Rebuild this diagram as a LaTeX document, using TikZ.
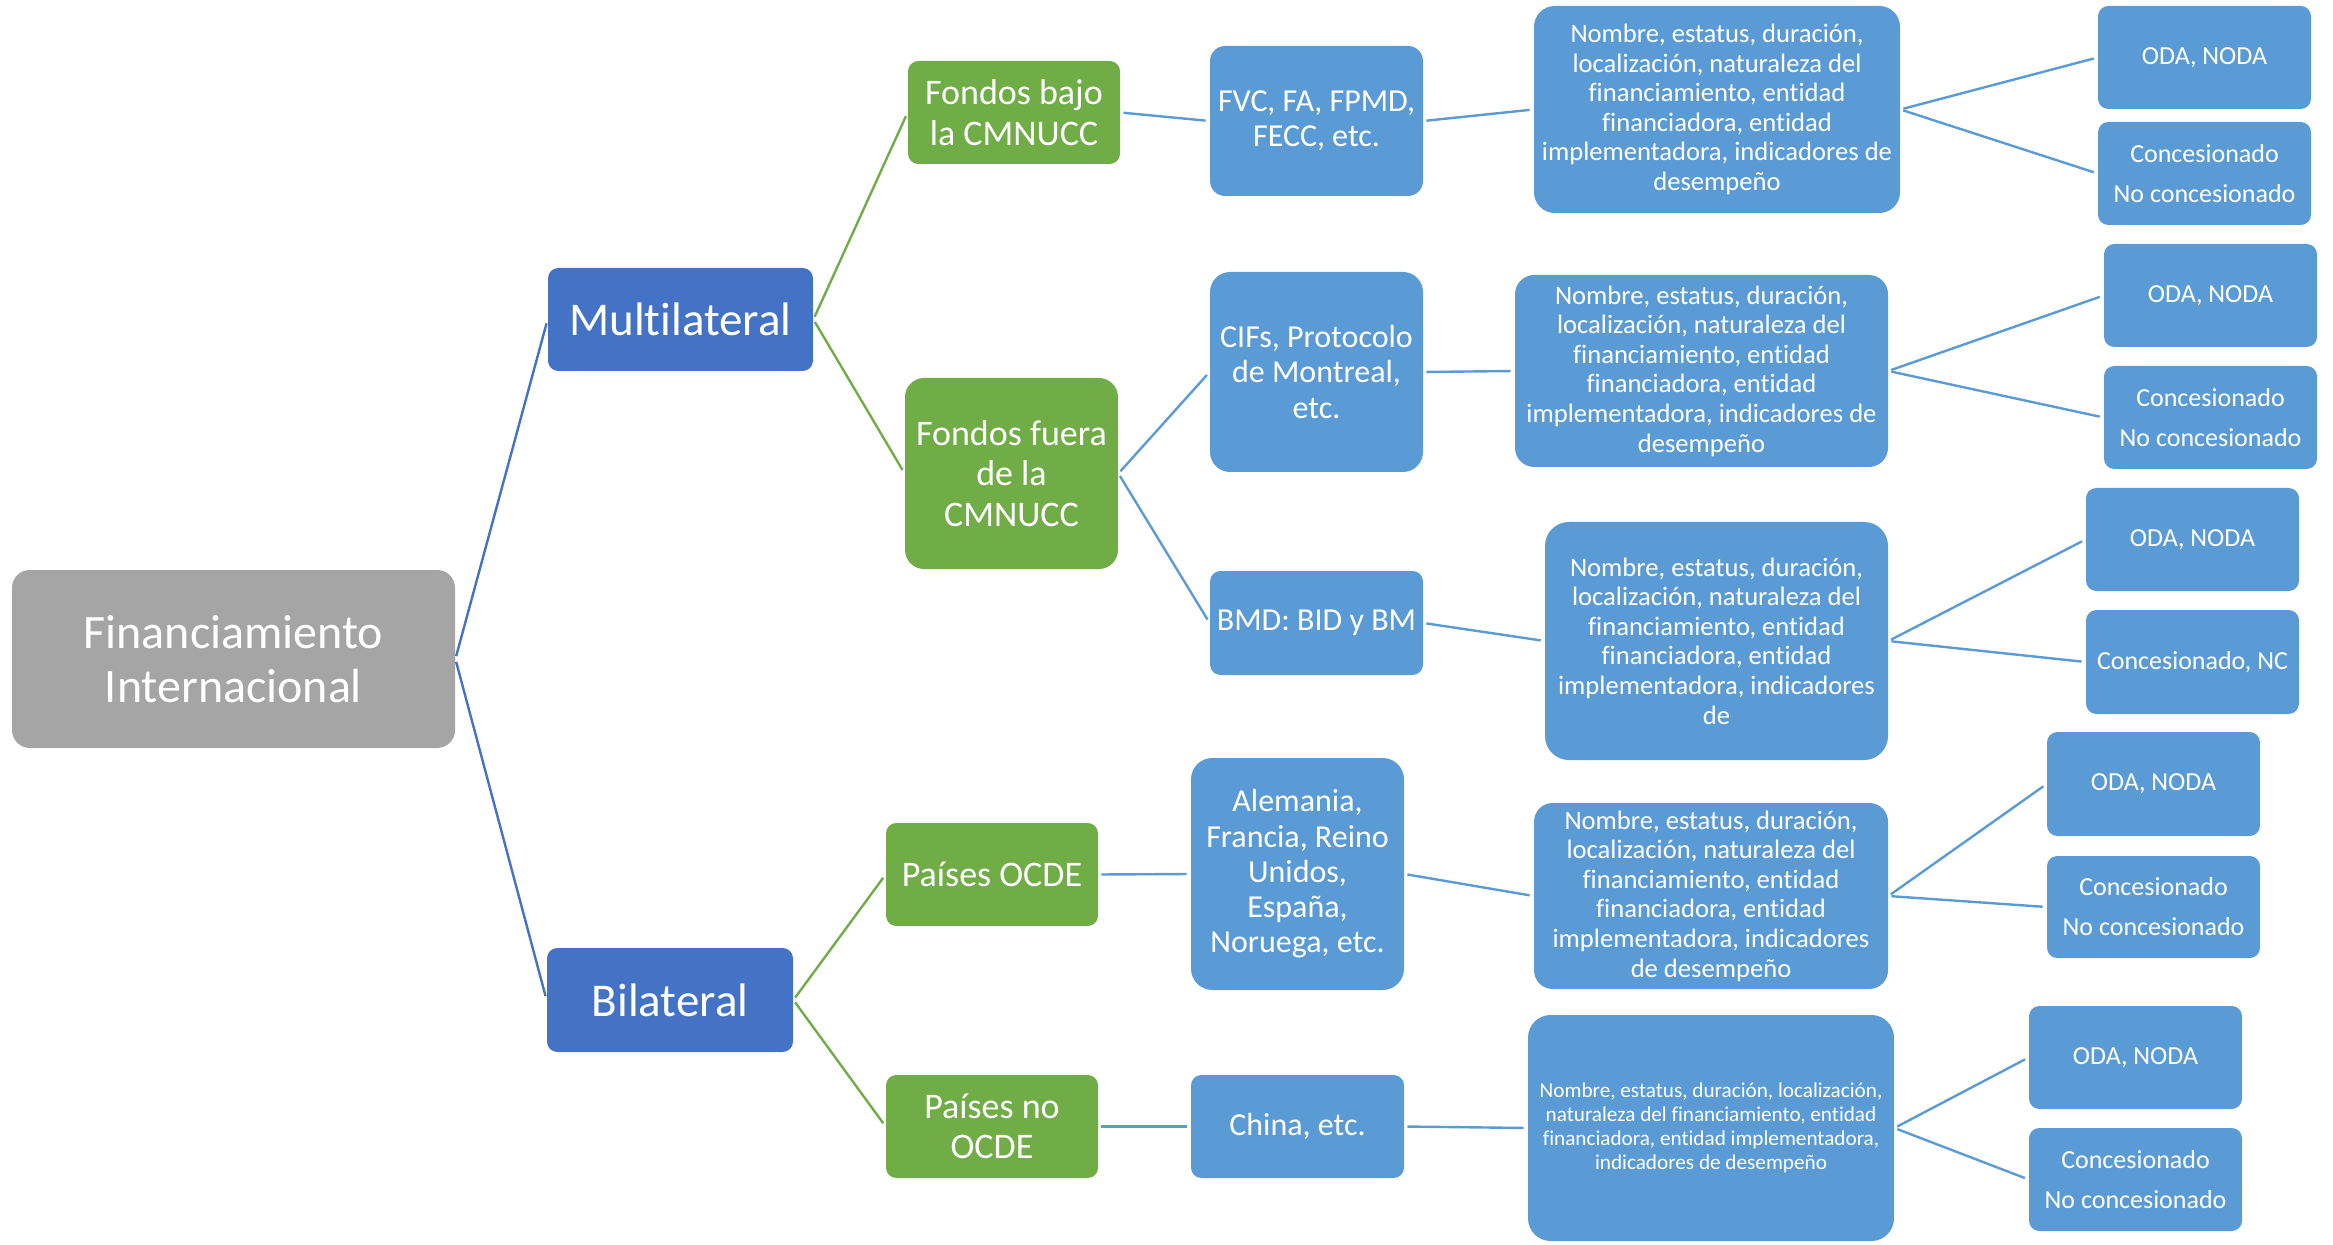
\documentclass[tikz,border=0pt]{standalone}
\usepackage{fontspec}
\setmainfont{Carlito}[RawFeature={-liga;-clig;-dlig;-calt}]
\definecolor{cgray}{HTML}{A5A5A5}
\definecolor{cdblue}{HTML}{4472C4}
\definecolor{cgreen}{HTML}{70AD47}
\definecolor{clblue}{HTML}{5B9BD5}
\newcommand\bx[7]{%
  \pgfmathsetmacro\bxw{(#5-#3)*0.5}%
  \pgfmathsetmacro\bxh{(#6-#4)*0.5}%
  \pgfmathsetmacro\bxr{0.1*min(#5-#3,#6-#4)*0.5}%
  \node[#2, minimum width=\bxw pt, minimum height=\bxh pt, rounded corners=\bxr pt] (#1) at ({(#3+#5)/2},{(#4+#6)/2}) {#7};}
\begin{document}
\begin{tikzpicture}[x=0.5pt,y=-0.5pt,
  basebox/.style={rectangle, text=white, align=center, inner sep=0pt},
  rootbox/.style={basebox, fill=cgray, font=\fontsize{24}{27}\selectfont},
  lonebox/.style={basebox, fill=cdblue, font=\fontsize{23.5}{27}\selectfont},
  grbox/.style={basebox, fill=cgreen, font=\fontsize{18}{20.3}\selectfont},
  midbox/.style={basebox, fill=clblue, font=\fontsize{16}{17.6}\selectfont},
  descbox/.style={basebox, fill=clblue, font=\fontsize{13.3}{14.8}\selectfont},
  descsmall/.style={basebox, fill=clblue, font=\fontsize{10.6}{11.9}\selectfont},
  leafbox/.style={basebox, fill=clblue, font=\fontsize{13}{20}\selectfont},
  conn/.style={line width=1.2pt, shorten <=1.5pt, shorten >=2pt}
]
\useasboundingbox (0,0) rectangle (2333,1245);

\bx{root}{rootbox}{12}{570}{455}{748}{Financiamiento\\Internacional}
\bx{multi}{lonebox}{548}{268}{813}{371}{Multilateral}
\bx{bilat}{lonebox}{547}{948}{793}{1052}{Bilateral}

\bx{fb}{grbox}{908}{61}{1120}{164}{Fondos bajo\\la CMNUCC}
\bx{ff}{grbox}{905}{378}{1118}{569}{Fondos fuera\\de la\\CMNUCC}
\bx{po}{grbox}{886}{823}{1098}{926}{Países OCDE}
\bx{pn}{grbox}{886}{1075}{1098}{1178}{Países no\\OCDE}

\bx{m1}{midbox}{1210}{46}{1423}{196}{FVC, FA, FPMD,\\FECC, etc.}
\bx{m2}{midbox}{1210}{272}{1423}{472}{CIFs, Protocolo\\de Montreal,\\etc.}
\bx{m3}{midbox}{1210}{571}{1423}{675}{BMD: BID y BM}
\bx{m4}{midbox}{1191}{758}{1404}{990}{Alemania,\\Francia, Reino\\Unidos,\\España,\\Noruega, etc.}
\bx{m5}{midbox}{1191}{1075}{1404}{1178}{China, etc.}

\bx{d1}{descbox}{1534}{6}{1900}{213}{Nombre, estatus, duración,\\localización, naturaleza del\\financiamiento, entidad\\financiadora, entidad\\implementadora, indicadores de\\desempeño}
\bx{d2}{descbox}{1515}{275}{1888}{467}{Nombre, estatus, duración,\\localización, naturaleza del\\financiamiento, entidad\\financiadora, entidad\\implementadora, indicadores de\\desempeño}
\bx{d3}{descbox}{1545}{522}{1888}{760}{Nombre, estatus, duración,\\localización, naturaleza del\\financiamiento, entidad\\financiadora, entidad\\implementadora, indicadores\\de}
\bx{d4}{descbox}{1534}{803}{1888}{989}{Nombre, estatus, duración,\\localización, naturaleza del\\financiamiento, entidad\\financiadora, entidad\\implementadora, indicadores\\de desempeño}
\bx{d5}{descsmall}{1528}{1015}{1894}{1241}{Nombre, estatus, duración, localización,\\naturaleza del financiamiento, entidad\\financiadora, entidad implementadora,\\indicadores de desempeño}

\bx{l1a}{leafbox}{2098}{6}{2311}{109}{ODA, NODA}
\bx{l1b}{leafbox}{2098}{122}{2311}{225}{Concesionado\\No concesionado}
\bx{l2a}{leafbox}{2104}{244}{2317}{347}{ODA, NODA}
\bx{l2b}{leafbox}{2104}{366}{2317}{469}{Concesionado\\No concesionado}
\bx{l3a}{leafbox}{2086}{488}{2299}{591}{ODA, NODA}
\bx{l3b}{leafbox}{2086}{610}{2299}{714}{Concesionado, NC}
\bx{l4a}{leafbox}{2047}{732}{2260}{836}{ODA, NODA}
\bx{l4b}{leafbox}{2047}{856}{2260}{958}{Concesionado\\No concesionado}
\bx{l5a}{leafbox}{2029}{1006}{2242}{1109}{ODA, NODA}
\bx{l5b}{leafbox}{2029}{1128}{2242}{1231}{Concesionado\\No concesionado}

\draw[conn, cdblue] (root.east) -- (multi.west);
\draw[conn, cdblue] (root.east) -- (bilat.west);
\draw[conn, cgreen] (multi.east) -- (fb.west);
\draw[conn, cgreen] (multi.east) -- (ff.west);
\draw[conn, cgreen] (bilat.east) -- (po.west);
\draw[conn, cgreen] (bilat.east) -- (pn.west);
\draw[conn, clblue] (fb.east) -- (m1.west);
\draw[conn, clblue] (ff.east) -- (m2.west);
\draw[conn, clblue] (ff.east) -- (m3.west);
\draw[conn, clblue] (po.east) -- (m4.west);
\draw[conn, clblue] (pn.east) -- (m5.west);
\draw[conn, clblue] (m1.east) -- (d1.west);
\draw[conn, clblue] (m2.east) -- (d2.west);
\draw[conn, clblue] (m3.east) -- (d3.west);
\draw[conn, clblue] (m4.east) -- (d4.west);
\draw[conn, clblue] (m5.east) -- (d5.west);
\foreach \d/\a/\b in {d1/l1a/l1b, d2/l2a/l2b, d3/l3a/l3b, d4/l4a/l4b, d5/l5a/l5b}{
  \draw[conn, clblue] (\d.east) -- (\a.west);
  \draw[conn, clblue] (\d.east) -- (\b.west);
}
\end{tikzpicture}
\end{document}
